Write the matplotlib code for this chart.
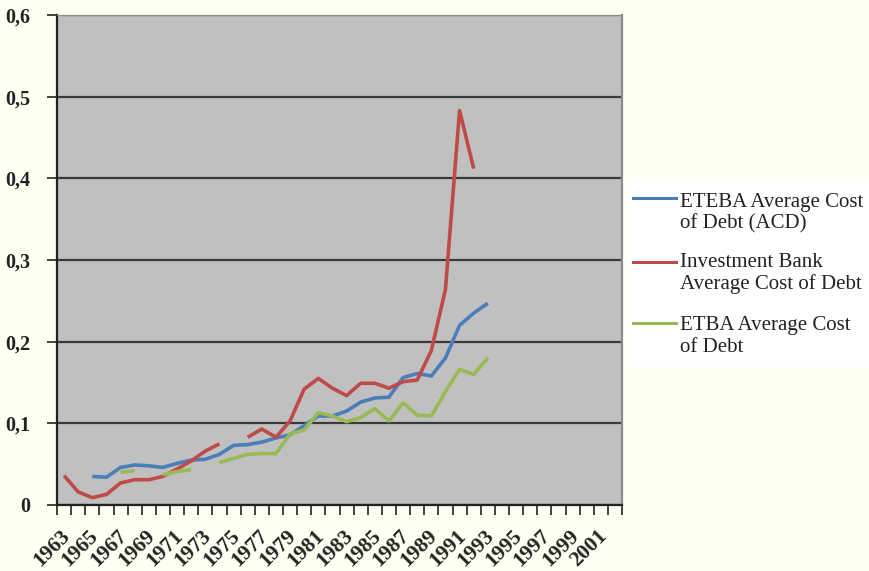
import numpy as np
import matplotlib
matplotlib.use("Agg")
import matplotlib.pyplot as plt
import matplotlib.lines as mlines
import matplotlib.patches as mpatches
import matplotlib.transforms as mtransforms
from matplotlib.ticker import FuncFormatter, MultipleLocator

nan = np.nan

# years 1963..1993 (categories run on to 2002 with no data)
years = list(range(1963, 1994))
all_years = list(range(1963, 2003))

eteba_acd = [nan, nan, 0.035, 0.034, 0.046, 0.049, 0.048, 0.046, 0.051, 0.055,
             0.056, 0.062, 0.073, 0.074, 0.077, 0.082, 0.086, 0.097, 0.109, 0.109,
             0.115, 0.126, 0.131, 0.132, 0.156, 0.161, 0.158, 0.180, 0.220, 0.235,
             0.247]
invest_bank = [0.036, 0.016, 0.009, 0.013, 0.027, 0.031, 0.031, 0.035, 0.044, 0.054,
               0.066, 0.075, nan, 0.083, 0.093, 0.083, 0.103, 0.142, 0.155, 0.143,
               0.134, 0.149, 0.149, 0.143, 0.151, 0.153, 0.189, 0.264, 0.483, 0.412,
               nan]
etba = [nan, nan, nan, nan, 0.040, 0.042, nan, 0.037, 0.041, 0.043,
        nan, 0.052, 0.057, 0.062, 0.063, 0.063, 0.087, 0.092, 0.113, 0.109,
        0.102, 0.107, 0.118, 0.103, 0.125, 0.110, 0.109, 0.139, 0.166, 0.160,
        0.180]

labels = ["ETEBA Average Cost\nof Debt (ACD)",
          "Investment Bank\nAverage Cost of Debt",
          "ETBA Average Cost\nof Debt"]
colors = ["#4A7EBB", "#BE4B48", "#98B954"]

bg = "#FFFFF2"
fig = plt.figure(figsize=(8.7, 5.71), dpi=100, facecolor=bg)
ax = fig.add_axes([57 / 870, 66 / 571, 565 / 870, 490 / 571])
ax.set_facecolor("#C0C0C0")

for series, c in zip([eteba_acd, invest_bank, etba], colors):
    ax.plot(years, series, color=c, lw=2.6, solid_capstyle="butt", zorder=3)

ax.set_ylim(0, 0.6)
ax.set_xlim(all_years[0] - 0.5, all_years[-1] + 0.5)

# gridlines
ax.yaxis.set_major_locator(MultipleLocator(0.1))
ax.grid(axis="y", color="#3a3a3a", lw=1.6, zorder=1)
ax.set_axisbelow(True)

serif = "Liberation Serif"
ax.yaxis.set_major_formatter(FuncFormatter(
    lambda v, p: "0" if abs(v) < 1e-9 else ("%.1f" % v).replace(".", ",")))
ax.tick_params(axis="y", direction="out", length=7, width=1.2, pad=12,
               colors="#222222", labelsize=14.5)
for t in ax.get_yticklabels():
    t.set_fontfamily(serif)
    t.set_fontweight("bold")

# x: tick marks between categories, labels every other year
ax.set_xticks([y - 0.5 for y in all_years] + [all_years[-1] + 0.5])
ax.set_xticklabels([])
ax.tick_params(axis="x", which="major", direction="out", length=7, width=1.2,
               colors="#222222")
ax.set_xticks(all_years[::2], minor=True)
ax.set_xticklabels([str(y) for y in all_years[::2]], minor=True,
                   rotation=45, ha="right", va="top", rotation_mode="anchor",
                   fontfamily=serif, fontweight="bold", fontsize=15.5)
ax.tick_params(axis="x", which="minor", length=0, pad=15, colors="#222222")
shift = mtransforms.ScaledTranslation(-4 / 100, 0, fig.dpi_scale_trans)
for t in ax.get_xticklabels(minor=True):
    t.set_transform(t.get_transform() + shift)

for side in ["left", "bottom"]:
    ax.spines[side].set_color("#222222")
    ax.spines[side].set_linewidth(1.6)
ax.spines["top"].set_color("#8a8a8a")
ax.spines["right"].set_color("#8a8a8a")
ax.spines["right"].set_linewidth(1.6)

# legend drawn by hand (white box, handles beside first text line)
W, H = 870.0, 571.0
fig.patches.append(mpatches.Rectangle((627 / W, 1 - 367 / H), 243 / W, 189 / H,
                                      transform=fig.transFigure, facecolor="white",
                                      edgecolor="none", zorder=0))
handle_y = [198, 262, 323]
text_y = [207, 267, 330]
for lab, c, hy, ty in zip(labels, colors, handle_y, text_y):
    fig.add_artist(mlines.Line2D([633 / W, 676 / W], [1 - hy / H, 1 - hy / H],
                                 color=c, lw=2.2, transform=fig.transFigure))
    fig.text(680 / W, 1 - ty / H, lab.split("\n")[0], fontfamily=serif,
             fontsize=15, color="#222222", va="baseline", ha="left")
    fig.text(680 / W, 1 - (ty + 21.5) / H, lab.split("\n")[1], fontfamily=serif,
             fontsize=15, color="#222222", va="baseline", ha="left")

fig.savefig("out.png", dpi=100, facecolor=bg)
